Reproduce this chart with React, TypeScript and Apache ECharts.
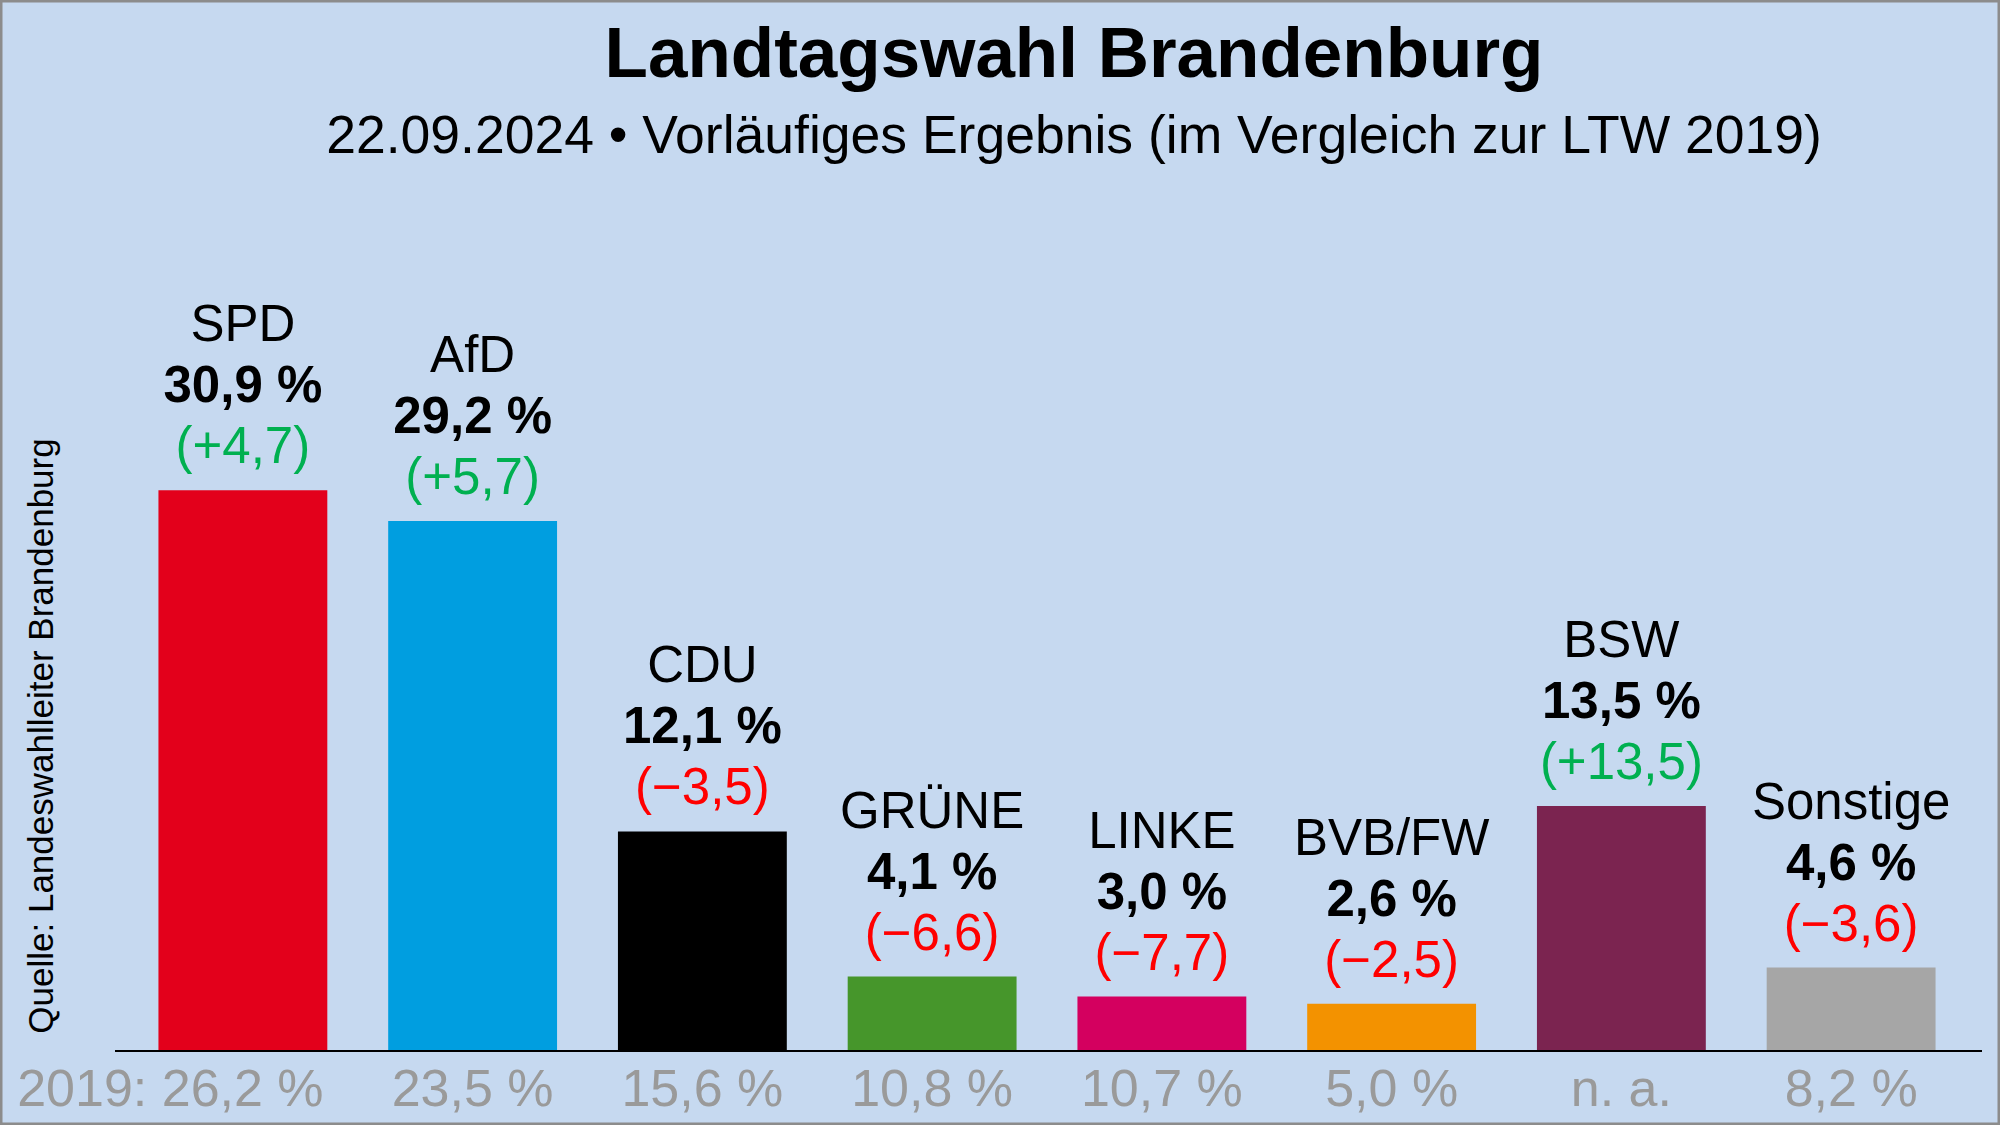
import React, { useEffect, useRef } from "react";
import * as echarts from "echarts";

const parties = ["SPD", "AfD", "CDU", "GRÜNE", "LINKE", "BVB/FW", "BSW", "Sonstige"];
const results2024 = [30.9, 29.2, 12.1, 4.1, 3.0, 2.6, 13.5, 4.6];
const changes = [4.7, 5.7, -3.5, -6.6, -7.7, -2.5, 13.5, -3.6];
const results2019 = ["26,2 %", "23,5 %", "15,6 %", "10,8 %", "10,7 %", "5,0 %", "n. a.", "8,2 %"];
const partyColors = ["#E3001B", "#009EE0", "#000000", "#46962B", "#D4005F", "#F39200", "#7B2450", "#A6A6A6"];

const FONT = 'Arial, "Liberation Sans", sans-serif';

const fmt = (v: number) => v.toFixed(1).replace(".", ",");

export default function App() {
  const ref = useRef<HTMLDivElement>(null);
  useEffect(() => {
    if (!ref.current) return;
    const chart = echarts.init(ref.current, undefined, { renderer: "svg" });
    const gridBottom = 74;
    const axisY = 1125 - gridBottom;
    chart.setOption({
      animation: false,
      backgroundColor: "#C6D9F0",
      textStyle: { fontFamily: FONT },
      title: [
        {
          text: "Landtagswahl Brandenburg",
          left: 1069,
          top: 12,
          textAlign: "center",
          textStyle: { fontFamily: FONT, fontSize: 71, fontWeight: "bold", color: "#000" },
        },
        {
          text: "22.09.2024 • Vorläufiges Ergebnis (im Vergleich zur LTW 2019)",
          left: 1069,
          top: 102,
          textAlign: "center",
          textStyle: { fontFamily: FONT, fontSize: 53.5, fontWeight: "normal", color: "#000" },
        },
      ],
      grid: { left: 128, right: 34, top: 325, bottom: gridBottom, containLabel: false },
      xAxis: {
        type: "category",
        data: parties,
        axisLine: { show: false },
        axisTick: { show: false },
        axisLabel: {
          interval: 0,
          margin: 11,
          formatter: (_v: string, i: number) =>
            i === 0 ? `{p|2019: }{b|${results2019[i]}}{s|}` : `{b|${results2019[i]}}`,
          rich: {
            p: { fontFamily: FONT, fontSize: 52, color: "#9a9a9a" },
            b: { fontFamily: FONT, fontSize: 52, color: "#9a9a9a" },
            s: { width: 145, fontSize: 52 },
          },
        },
      },
      yAxis: { type: "value", min: 0, max: 40, show: false, splitLine: { show: false } },
      series: [
        {
          type: "bar",
          barWidth: "73.5%",
          data: results2024.map((v, i) => ({ value: v, itemStyle: { color: partyColors[i] } })),
          label: {
            show: true,
            position: "top",
            distance: 14,
            formatter: (p: any) => {
              const i = p.dataIndex;
              const d = changes[i];
              const ch = d >= 0 ? `{g|(+${fmt(d)})}` : `{r|(\u2212${fmt(-d)})}`;
              return `{n|${parties[i]}}\n{v|${fmt(results2024[i])} %}\n${ch}`;
            },
            rich: {
              n: { fontFamily: FONT, fontSize: 51, lineHeight: 61, color: "#000" },
              v: { fontFamily: FONT, fontSize: 51, lineHeight: 61, color: "#000", fontWeight: "bold" },
              g: { fontFamily: FONT, fontSize: 51, lineHeight: 61, color: "#00B050" },
              r: { fontFamily: FONT, fontSize: 51, lineHeight: 61, color: "#FF0000" },
            },
          },
        },
      ],
      graphic: [
        {
          type: "line",
          shape: { x1: 115, y1: axisY, x2: 1982, y2: axisY },
          style: { stroke: "#000", lineWidth: 2 },
          z: 10,
        },
        {
          type: "text",
          x: 40,
          y: 736,
          rotation: Math.PI / 2,
          style: {
            text: "Quelle: Landeswahlleiter Brandenburg",
            fontFamily: FONT,
            fontSize: 35,
            fill: "#000",
            align: "center",
            verticalAlign: "middle",
          },
        },
        {
          type: "rect",
          shape: { x: 1, y: 1, width: 1998, height: 1123 },
          style: { fill: "none", stroke: "#8c8c8c", lineWidth: 3 },
          z: 20,
        },
      ],
    });
    return () => chart.dispose();
  }, []);
  return (
    <div
      ref={ref}
      style={{ position: "fixed", left: 0, top: 0, width: 2000, height: 1125 }}
    />
  );
}
